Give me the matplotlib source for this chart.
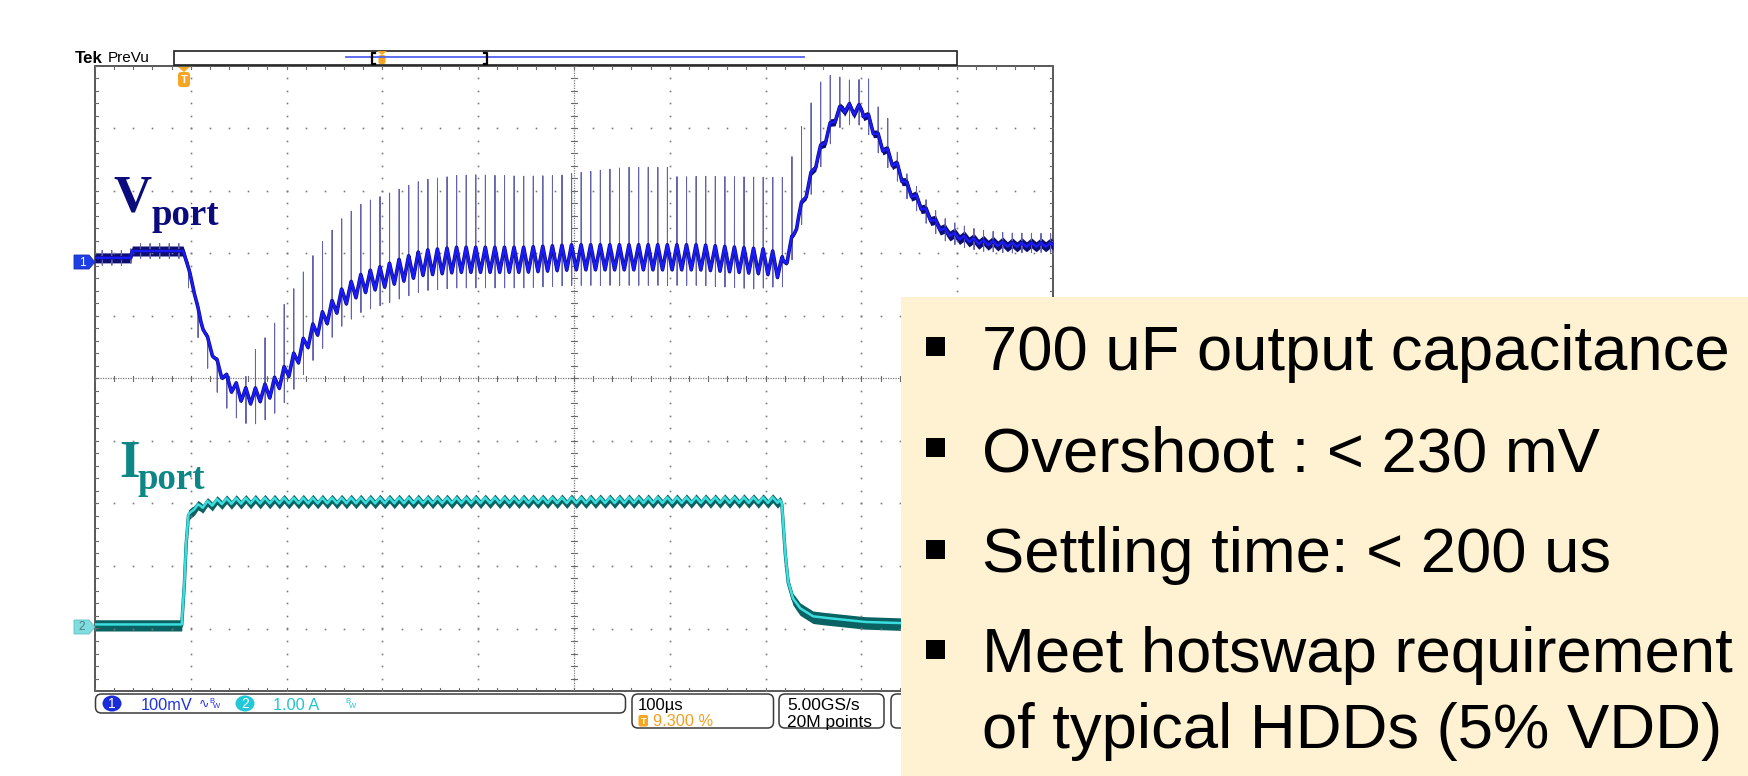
import numpy as np
import matplotlib
matplotlib.use('Agg')
from matplotlib import pyplot as plt
from matplotlib.patches import Rectangle, FancyBboxPatch, Polygon, Ellipse

# ---- scope settings ----
t_left, t_right = -93.0, 907.0      # us, 100 us/div, trigger at 9.3 %
per = 10.0                          # switching period seen in the ripple (us)
t_sw = 4.4                          # time of first spike edge (us)
ch1_scale, ch1_pos = 100.0, 1.87    # mV/div, div
ch2_scale, ch2_pos = 1.0, -3.98     # A/div, div

# ---- Vport (ch1), mV ----
v_t = [-93, -56, -54, -1, 6, 17, 27, 37, 48, 61, 72, 90, 103, 118, 131, 145, 166,
       187, 208, 228, 249, 285, 354, 406, 455, 538, 608, 625, 629, 636, 641, 651,
       661, 671, 679, 688, 698, 708, 716, 724, 735, 744, 755, 765, 775, 786, 796,
       810, 831, 862, 907]
v_mv = [6, 6, 17, 17, -18, -93, -136, -173, -197, -213, -216, -205, -184, -152,
        -120, -93, -56, -34, -24, -13, -2, 3, 3, 7, 7, 7, 0, -8, 7, 39, 71, 119,
        166, 203, 230, 247, 243, 243, 223, 198, 171, 151, 119, 99, 78, 59, 47,
        39, 31, 27, 27]
# spike height above the trace
h_t = [-93, -1, 0, 60, 74, 105, 144, 194, 303, 392, 462, 507, 515, 608, 625, 645,
       666, 688, 708, 715, 725, 736, 746, 800, 907]
h_mv = [12, 12, 10, 10, 73, 113, 126, 129, 136, 132, 144, 144, 128, 135, 143, 128,
        107, 45, 49, 67, 50, 58, 20, 20, 18]
# undershoot below the trace after each spike
d_t = [-93, 0, 8, 150, 600, 630, 700, 800, 907]
d_mv = [12, 12, 45, 45, 45, 30, 25, 15, 12]
# half peak-peak of the triangular ripple
ra_t = [-93, 0, 60, 150, 250, 620, 630, 640, 740, 800, 907]
ra_mv = [0, 0, 12, 14, 20, 20, 10, 8, 8, 4, 3]
# half thickness of the noisy band
nw_t = [-93, 0, 10, 640, 660, 740, 800, 907]
nw_mv = [8, 8, 3, 3, 6, 6, 8, 8]

# ---- Iport (ch2), A ----
i_t = [-93, -2.5, 0, 2, 4.5, 9, 14.5, 27, 38.5, 70, 622, 624, 627, 630.5, 635.5,
       643, 656.5, 667, 710, 748, 907]
i_a = [0.03, 0.03, 0.6, 1.3, 1.78, 1.87, 1.92, 1.97, 2.0, 2.01, 2.02, 1.94, 1.25,
       0.72, 0.45, 0.29, 0.16, 0.14, 0.07, 0.05, 0.04]
ri_t = [-93, 0, 20, 622, 626, 907]
ri_a = [0, 0, 0.045, 0.045, 0, 0]
ni_t = [-93, 0, 20, 620, 640, 907]
ni_a = [0.09, 0.09, 0.07, 0.07, 0.1, 0.1]

bullets = ['700 uF output capacitance',
           'Overshoot : < 230 mV',
           'Settling time: < 200 us',
           'Meet hotswap requirement']
bullet_cont = 'of typical HDDs (5% VDD)'

W, H = 1749, 776
fig = plt.figure(figsize=(W / 100, H / 100), dpi=100)
fig.patch.set_facecolor('white')

# graticule area in pixels
gx0, gx1, gy0, gy1 = 95, 1053, 66, 691
ax = fig.add_axes([gx0 / W, 1 - gy1 / H, (gx1 - gx0) / W, (gy1 - gy0) / H])
ax.set_xlim(t_left, t_right)
ax.set_ylim(-5, 5)
ax.axis('off')

# ---- graticule ----
gcol = '#7a7a7a'
xs_minor = np.arange(t_left, t_right + 0.01, 20.0)
ys_minor = np.arange(-5, 5.001, 0.2)
for k in range(1, 10):
    if k == 5:
        continue
    xk = t_left + 100 * k
    ax.plot(np.full_like(ys_minor, xk), ys_minor, ls='none', marker='s', ms=1.2,
            mew=0, color=gcol)
for k in range(-4, 5):
    if k == 0:
        continue
    ax.plot(xs_minor, np.full_like(xs_minor, k), ls='none', marker='s', ms=1.2,
            mew=0, color=gcol)
t_mid = t_left + 500
ax.plot([t_left, t_right], [0, 0], ls=(0, (1, 1)), lw=0.9, color=gcol)
ax.plot([t_mid, t_mid], [-5, 5], ls=(0, (1, 1)), lw=0.9, color=gcol)
tx, ty = [], []
for x in xs_minor:
    tx += [x, x, np.nan, x, x, np.nan, x, x, np.nan]
    ty += [-0.045, 0.045, np.nan, 5, 4.95, np.nan, -5, -4.95, np.nan]
for y in ys_minor:
    tx += [t_mid - 3, t_mid + 3, np.nan, t_left, t_left + 3, np.nan, t_right, t_right - 3, np.nan]
    ty += [y, y, np.nan, y, y, np.nan, y, y, np.nan]
ax.plot(tx, ty, color='#6a6a6a', lw=0.8)
ax.add_patch(Rectangle((t_left, -5), t_right - t_left, 10, fill=False,
                       ec='#4a4a4a', lw=1.3, clip_on=False))

# ---- build traces ----
t = np.arange(t_left, t_right + 0.0001, 0.1)
ph = ((t - t_sw) % per) / per
tri = 2 * np.abs(2 * ph - 1) - 1
edge = np.where(np.diff(np.floor((t - t_sw) / per)) > 0)[0] + 1
edge = edge[edge < len(t) - 1]

vc = np.interp(t, v_t, v_mv)
band = vc + np.interp(t, ra_t, ra_mv) * tri
spiky = band.copy()
spiky[edge] = vc[edge] + np.interp(t[edge], h_t, h_mv)
spiky[edge + 1] = vc[edge + 1] - np.interp(t[edge + 1], d_t, d_mv)
nw = np.interp(t, nw_t, nw_mv)

y_sp = spiky / ch1_scale + ch1_pos
y_b = band / ch1_scale + ch1_pos
ax.plot(t, y_sp, color='#6262ae', lw=0.7)
ax.fill_between(t, y_b - nw / ch1_scale, y_b + nw / ch1_scale, color='#0e0e70', lw=0)
ax.plot(t, y_b, color='#0e0e70', lw=2.6)
ax.plot(t, y_b, color='#1a1aff', lw=1.7)

ic = np.interp(t, i_t, i_a) + np.interp(t, ri_t, ri_a) * tri
ni = np.interp(t, ni_t, ni_a)
y_i = ic / ch2_scale + ch2_pos
ax.fill_between(t, y_i - ni, y_i + ni, color='#0b6262', lw=0)
ax.plot(t, y_i, color='#0b6262', lw=2.4)
ax.plot(t, y_i + 0.015, color='#3adede', lw=1.8)

# ---- overlay in pixel units ----
ov = fig.add_axes([0, 0, 1, 1], zorder=5)
ov.patch.set_alpha(0)
ov.set_xlim(0, W)
ov.set_ylim(H, 0)
ov.axis('off')

sans = 'Liberation Sans'
serif = 'Liberation Serif'

ov.text(75, 63, 'Tek', fontsize=12.2, fontweight='bold', family=sans, va='baseline')
ov.text(108, 62.5, 'PreVu', fontsize=11, family=sans, va='baseline')

# record preview bar
ov.add_patch(Rectangle((174, 51), 957 - 174, 14, fill=True, fc='white', ec='#202020', lw=1.2))
ov.plot([346, 804], [57, 57], color='#5060f0', lw=1.3)
for bx, d in [(372, 1), (487.5, -1)]:
    ov.plot([bx + 3 * d, bx, bx, bx + 3 * d], [52.5, 52.5, 63.5, 63.5], color='black', lw=1.6)
ov.add_patch(Polygon([[377, 51], [387, 51], [382, 55]], closed=True, fc='#f5a623', ec='none'))
ov.add_patch(FancyBboxPatch((378.5, 55), 7, 9, boxstyle='round,pad=0,rounding_size=2',
                            fc='#f5a623', ec='none'))

# trigger marker
ov.add_patch(Polygon([[178, 67], [190, 67], [184, 72]], closed=True, fc='#f5a623', ec='none'))
ov.add_patch(FancyBboxPatch((178, 72), 12, 15, boxstyle='round,pad=0,rounding_size=3',
                            fc='#f5a623', ec='none'))
ov.text(184, 80, 'T', fontsize=8, fontweight='bold', color='white', family=sans,
        ha='center', va='center')

# channel markers
ov.add_patch(Polygon([[74, 255], [89, 255], [95, 262], [89, 269], [74, 269]],
                     closed=True, fc='#1f3fe6', ec='#1530b0', lw=0.6))
ov.text(82, 262.5, '1', fontsize=8.5, color='white', family=sans, ha='center', va='center')
ov.add_patch(Polygon([[74, 620], [89, 620], [95, 627], [89, 634], [74, 634]],
                     closed=True, fc='#7fdcdf', ec='#60c0c4', lw=0.6))
ov.text(82, 627.5, '2', fontsize=8.5, color='#4f8080', family=sans, ha='center', va='center')

# trace labels
ov.text(113, 212, 'V', fontsize=38, fontweight='bold', family=serif, color='#0b0b7e', va='baseline')
ov.text(152, 225, 'port', fontsize=26.5, fontweight='bold', family=serif, color='#0b0b7e', va='baseline')
ov.text(119, 477, 'I', fontsize=38, fontweight='bold', family=serif, color='#0e8686', va='baseline')
ov.text(138, 489, 'port', fontsize=26.5, fontweight='bold', family=serif, color='#0e8686', va='baseline')

# status readouts
def box(x0, x1, y0, y1):
    ov.add_patch(FancyBboxPatch((x0, y0), x1 - x0, y1 - y0,
                                boxstyle='round,pad=0,rounding_size=6',
                                fc='white', ec='#3a3a3a', lw=1.1))

box(95.5, 625.5, 694, 713)
box(632, 773.5, 694, 728)
box(779, 884, 694, 728)
box(891, 1000, 694, 728)

blue_t = '#1e32e6'
cyan_t = '#22c4d4'
ov.add_patch(Ellipse((112, 703.5), 19, 16, fc='#1a2cd8', ec='none'))
ov.text(112, 704, '1', fontsize=10, color='white', family=sans, ha='center', va='center')
ov.text(141, 709.5, '100mV', fontsize=11.8, color=blue_t, family=sans, va='baseline')
ov.text(199, 708, '\u223f', fontsize=9, color=blue_t, family='DejaVu Sans', va='baseline')
ov.text(209, 703, 'B', fontsize=5.5, color=blue_t, family=sans, va='baseline')
ov.text(213, 708, 'W', fontsize=5.5, color=blue_t, family=sans, va='baseline')
ov.add_patch(Ellipse((245, 703.5), 19, 16, fc='#22c8d8', ec='none'))
ov.text(245, 704, '2', fontsize=10, color='white', family=sans, ha='center', va='center')
ov.text(273.5, 709.5, '1.00 A', fontsize=11.8, color=cyan_t, family=sans, va='baseline')
ov.text(345, 703, 'B', fontsize=5.5, color=cyan_t, family=sans, va='baseline')
ov.text(349, 708, 'W', fontsize=5.5, color=cyan_t, family=sans, va='baseline')

ov.text(638, 710, '100\u00b5s', fontsize=12, color='black', family=sans, va='baseline')
ov.add_patch(FancyBboxPatch((638.5, 715), 9.5, 11.5, boxstyle='round,pad=0,rounding_size=2',
                            fc='#f5a623', ec='none'))
ov.text(643.2, 721, 'T', fontsize=6.5, fontweight='bold', color='white', family=sans,
        ha='center', va='center')
ov.text(653, 726.5, '9.300 %', fontsize=11.8, color='#f0a020', family=sans, va='baseline')
ov.text(787, 710, '5.00GS/s', fontsize=12.5, color='black', family=sans, va='baseline')
ov.text(787, 726.5, '20M points', fontsize=12.5, color='black', family=sans, va='baseline')

# ---- note box ----
ov.add_patch(Rectangle((901, 297), W - 901, H - 297, fc='#fff2d2', ec='none', zorder=10))
bullet_y = [(337, 370), (438, 471.7), (540, 571.7), (640, 671.7)]
for (by, base), txt in zip(bullet_y, bullets):
    ov.add_patch(Rectangle((926, by), 19, 19, fc='black', ec='none', zorder=11))
    ov.text(982, base, txt, fontsize=45.6, family=sans, color='black',
            va='baseline', zorder=11)
ov.text(982, 748.3, bullet_cont, fontsize=45.6, family=sans, color='black',
        va='baseline', zorder=11)

fig.savefig('out.png', dpi=100, facecolor='white')
